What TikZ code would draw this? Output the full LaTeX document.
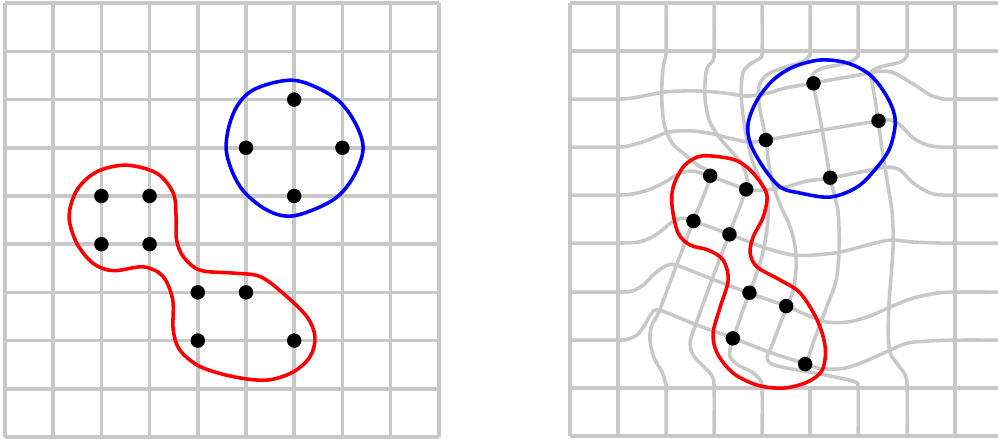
\documentclass[tikz,border=0pt]{standalone}
\definecolor{gridGray}{RGB}{200,200,200}
\definecolor{regionRed}{RGB}{255,0,0}
\definecolor{regionBlue}{RGB}{0,0,255}

\begin{document}
\begin{tikzpicture}[
    % Grid Line Style
    gridline/.style={
        draw=gridGray,
        line width=2.1pt,
        line join=round
    },
    % Region Outline Styles
    redregion/.style={
        draw=regionRed,
        line width=2.1pt
    },
    blueregion/.style={
        draw=regionBlue,
        line width=2.1pt
    },
    % Landmark Point
    landmark/.style={
        circle,
        fill=black,
        inner sep=0pt,
        minimum size=0.30cm
    }
]
    \useasboundingbox (-0.1037,-0.0415) rectangle (20.602,9.066);

    % Panel 1: regular grid
    \foreach \i in {0,...,9} {
        \draw [gridline] (\i,0) -- (\i,9);
        \draw [gridline] (0,\i) -- (9,\i);
    }

    \draw [blueregion] plot[smooth cycle, tension=0.55] coordinates {
        (6.0,7.40) (6.81,7.06) (7.23,6.58) (7.43,6.0) (7.23,5.40) (6.81,4.92)
        (6.0,4.59) (5.43,4.71) (4.88,5.19) (4.59,5.95) (4.74,6.72) (5.15,7.20)};
    \draw [redregion] plot[smooth cycle, tension=0.55] coordinates {
        (2.51,5.64) (3.15,5.47) (3.49,5.06) (3.55,4.57) (3.56,4.09) (3.70,3.74)
        (4.05,3.46) (4.74,3.40) (5.29,3.33) (5.77,2.98) (6.26,2.50) (6.43,2.08)
        (6.33,1.67) (5.98,1.35) (5.43,1.18) (4.74,1.25) (4.05,1.46) (3.63,1.80)
        (3.49,2.22) (3.48,2.84) (3.28,3.33) (2.87,3.53) (2.25,3.45) (1.83,3.60)
        (1.49,4.02) (1.33,4.57) (1.49,5.12) (1.90,5.50)};

    \foreach \p/\n in {(6,7)/lb1, (7,6)/lb2, (5,6)/lb3, (6,5)/lb4}
        \node [landmark] (\n) at \p {};
    \foreach \p/\n in {(2,5)/lr1, (3,5)/lr2, (2,4)/lr3, (3,4)/lr4,
                       (4,3)/lr5, (5,3)/lr6, (4,2)/lr7, (6,2)/lr8}
        \node [landmark] (\n) at \p {};

    % Panel 2: warped grid (pixel units)
    \begin{scope}[shift={(-0.1037,9.066)}, x=0.020747cm, y=-0.020747cm]
        % fixed border lines
        \foreach \v in {570,618,955}
            \draw [gridline] (\v,3) -- (\v,436);
        \foreach \h in {3,51,388,436}
            \draw [gridline] (570,\h) -- (998,\h);
        \draw [gridline] (810,388) -- (810,436);

        % warped verticals
        \draw [gridline] plot[smooth, tension=0.5] coordinates {
            (666,3) (666,51) (664,62) (662,78) (662,108) (665,128) (672,143)
            (684,154) (697,165) (710,176) (693,221) (676,266) (659,311) (651,327)
            (650,342) (654,358) (662,372) (665,382) (666,388) (666,436)};
        \draw [gridline] plot[smooth, tension=0.5] coordinates {
            (714,3) (714,51) (713,60) (707,68) (705,80) (705,100) (709,120)
            (718,136) (731,151) (741,163) (746,175) (746,189) (729,234) (712,279)
            (696,323) (690,342) (693,355) (704,367) (712,376) (714,388) (714,436)};
        \draw [gridline] plot[smooth, tension=0.5] coordinates {
            (762,3) (762,51) (760,58) (750,64) (743,72) (741,88) (742,108)
            (746,135) (752,160) (760,180) (767,198) (768,215) (766,235) (762,255)
            (756,275) (749,293) (733,338) (730,348) (730,357) (738,365) (752,372)
            (760,380) (762,388) (762,436)};
        \draw [gridline] plot[smooth, tension=0.5] coordinates {
            (810,3) (810,51) (809,56) (802,62) (785,67) (768,74) (760,83)
            (758,96) (761,116) (766,140) (768,160) (773,185) (781,207) (790,227)
            (795,247) (796,267) (793,290) (787,306) (778,329) (772,345) (767,357)
            (770,363) (782,367) (815,373) (845,379) (855,382) (858,388) (858,436)};
        \draw [gridline] plot[smooth, tension=0.5] coordinates {
            (858,3) (858,51) (857,57) (847,63) (823,68) (813,74) (813,83)
            (822,130) (830,178) (833,190) (838,213) (839,247) (836,280) (826,308)
            (814,340) (806,364)};
        \draw [gridline] plot[smooth, tension=0.5] coordinates {
            (907,3) (907,51) (906,57) (900,62) (880,67) (871,72) (872,83)
            (875,100) (878,121) (882,150) (888,187) (892,213) (893,243) (891,275)
            (889,300) (888,333) (890,353) (898,365) (905,375) (907,388) (907,436)};

        % warped horizontals
        \draw [gridline] plot[smooth, tension=0.5] coordinates {
            (570,99) (618,99) (632,98) (648,95) (665,92) (682,91) (698,91)
            (715,92) (732,94) (745,96) (758,95) (772,92) (785,88) (813,83)
            (847,77) (870,73) (881,71) (894,73) (913,84) (930,95) (943,99)
            (955,99) (998,99)};
        \draw [gridline] plot[smooth, tension=0.5] coordinates {
            (570,147) (618,147) (632,145) (648,140) (665,133) (676,131) (692,131)
            (708,133) (725,137) (742,141) (753,142) (766,140) (822,130) (878,121)
            (890,120) (900,125) (913,138) (927,145) (940,147) (955,147) (998,147)};
        \draw [gridline] plot[smooth, tension=0.5] coordinates {
            (570,195) (618,195) (632,194) (648,190) (665,182) (678,174) (692,171)
            (710,176) (746,189) (765,190) (785,187) (807,181) (830,178) (870,170)
            (887,167) (900,170) (913,183) (930,193) (943,195) (955,195) (998,195)};
        \draw [gridline] plot[smooth, tension=0.5] coordinates {
            (570,243) (618,243) (638,242) (652,237) (662,230) (672,222) (682,218)
            (693,221) (729,234) (752,243) (772,250) (793,255) (813,255) (840,252)
            (867,245) (890,240) (913,242) (940,243) (955,243) (998,243)};
        \draw [gridline] plot[smooth, tension=0.5] coordinates {
            (570,292) (618,292) (632,291) (643,285) (653,275) (662,268) (668,265)
            (676,265) (712,279) (749,293) (786,306) (807,315) (827,322) (847,322)
            (867,317) (890,307) (913,298) (937,293) (955,292) (998,292)};
        \draw [gridline] plot[smooth, tension=0.5] coordinates {
            (570,340) (618,340) (628,339) (638,334) (645,324) (651,314) (659,310)
            (697,325) (733,338) (769,352) (806,364) (817,368) (830,369) (845,368)
            (863,362) (890,350) (907,343) (927,341) (955,340) (998,340)};

        \draw [blueregion] plot[smooth cycle, tension=0.55] coordinates {
            (820,60) (847,63) (870,75) (887,97) (895,120) (890,147) (877,167)
            (857,187) (830,197) (800,193) (780,187) (763,167) (750,143) (748,123)
            (757,100) (773,80) (793,67)};
        \draw [redregion] plot[smooth cycle, tension=0.55] coordinates {
            (712,156) (735,160) (750,170) (762,185) (767,197) (763,217) (753,237)
            (750,253) (757,267) (780,280) (800,293) (817,320) (825,347) (822,370)
            (807,382) (783,388) (757,385) (733,373) (717,353) (713,333) (720,307)
            (728,280) (723,260) (708,250) (690,245) (678,233) (672,207) (673,187)
            (683,167) (697,157)};

        \foreach \p/\n in {(813.3,83.3)/rb1, (878.3,120.7)/rb2,
                           (765.7,140)/rb3, (830,177.7)/rb4}
            \node [landmark] (\n) at \p {};
        \foreach \p/\n in {(710,175.7)/rr1, (746,189.3)/rr2, (693.3,221)/rr3,
                           (729.3,234.3)/rr4, (749.3,292.7)/rr5, (786,306)/rr6,
                           (732.7,338.3)/rr7, (805,364)/rr8}
            \node [landmark] (\n) at \p {};
    \end{scope}

\end{tikzpicture}
\end{document}
